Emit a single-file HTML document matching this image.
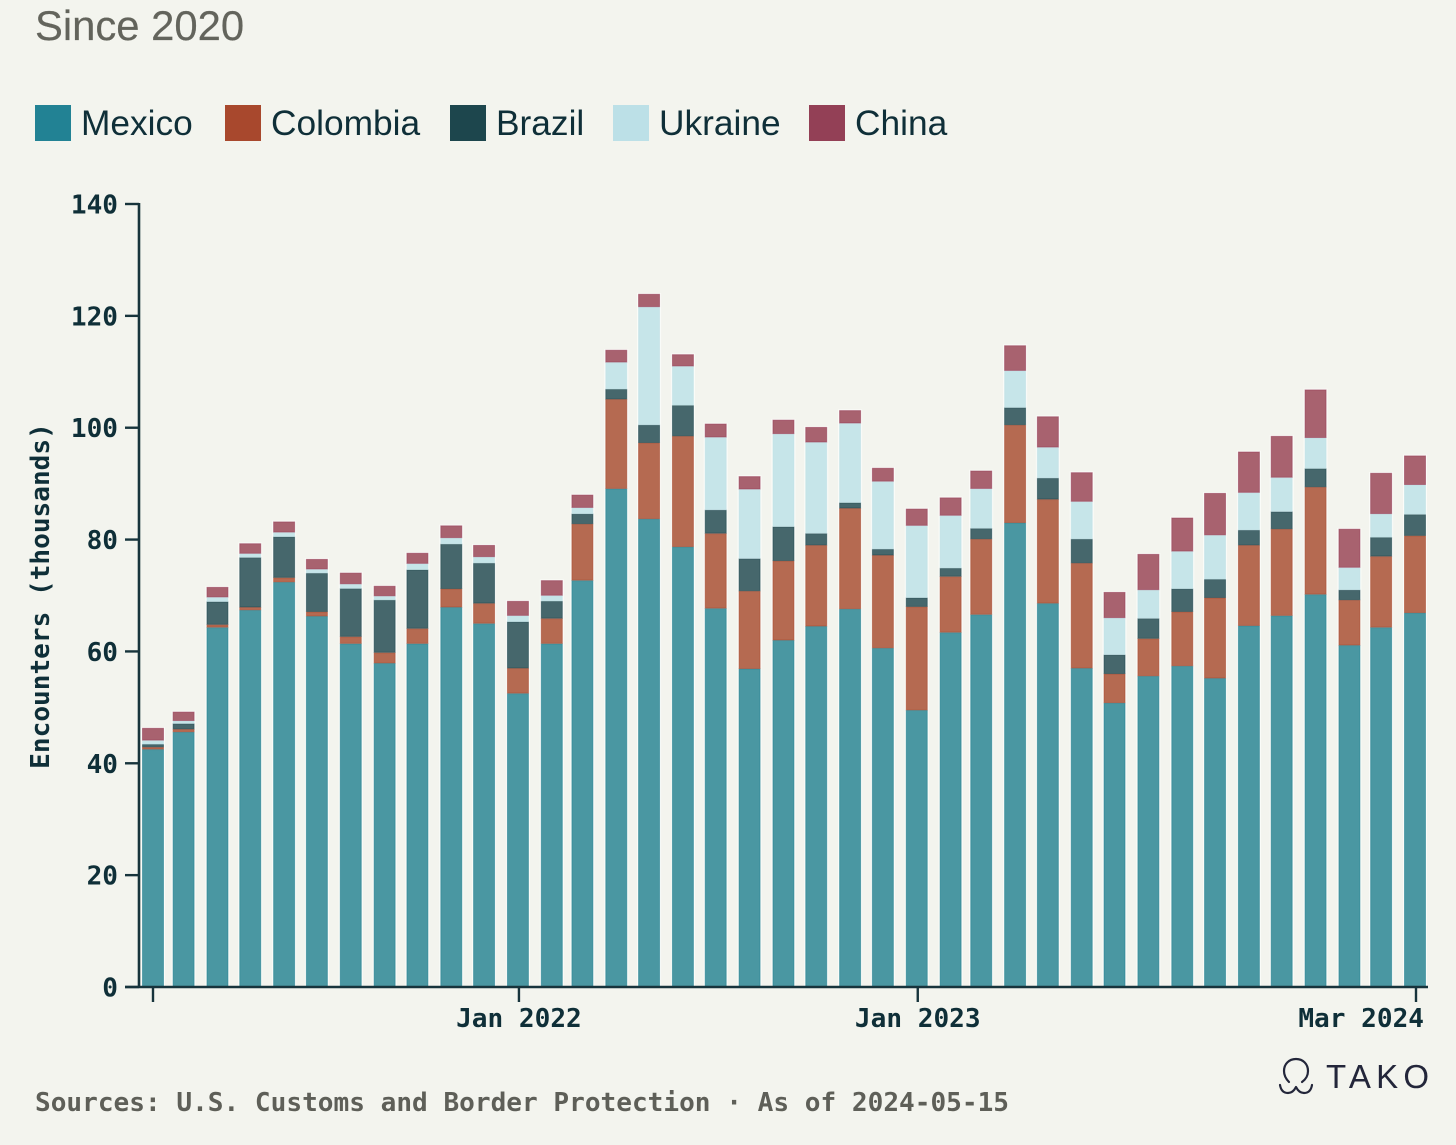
<!DOCTYPE html>
<html lang="en">
<head>
<meta charset="utf-8">
<title>Encounters by nationality since 2020</title>
<style>
  html, body { margin: 0; padding: 0; background: #f3f4ee; }
  body { width: 1456px; height: 1145px; overflow: hidden; }
  svg { display: block; }
  .sans { font-family: "Liberation Sans", sans-serif; }
  .mono { font-family: "DejaVu Sans Mono", "Liberation Mono", monospace; font-weight: 700; font-size: 26.1px; }
</style>
</head>
<body>
<svg id="chart" xmlns="http://www.w3.org/2000/svg" width="1456" height="1145" viewBox="0 0 1456 1145">
  <rect x="0" y="0" width="1456" height="1145" fill="#f3f4ee"/>
  <text class="sans" x="35" y="40" font-size="41.8" fill="#63645c" stroke="#63645c" stroke-width="0.2">Since 2020</text>

  <g id="legend"></g>
  <g id="bars"></g>
  <g id="axes"></g>

  <text class="mono" fill="#0f2f38" text-anchor="middle" transform="translate(49,596) rotate(-90)">Encounters (thousands)</text>
  <text class="mono" x="35" y="1111" fill="#5e5f58">Sources: U.S. Customs and Border Protection · As of 2024-05-15</text>

  <g>
    <path fill="none" stroke="#23263a" stroke-width="2.2" stroke-linecap="round" stroke-linejoin="round"
      d="M1289 1082 C1285 1078 1284 1074 1284 1071 C1284 1064 1289 1059 1296 1059 C1303 1059 1308 1064 1308 1071 C1308 1076 1306 1079 1302 1082 M1280 1085 C1281 1091 1284 1093 1288 1093 C1291 1093 1294 1091 1296 1087 C1298 1091 1301 1093 1304 1093 C1308 1093 1311 1091 1312 1085"/>
    <text class="sans" x="1326" y="1088" font-size="33" letter-spacing="5.2" fill="#23263a">TAKO</text>
  </g>
</svg>

<script>
const months = ["2021-02","2021-03","2021-04","2021-05","2021-06","2021-07","2021-08","2021-09","2021-10","2021-11","2021-12","2022-01","2022-02","2022-03","2022-04","2022-05","2022-06","2022-07","2022-08","2022-09","2022-10","2022-11","2022-12","2023-01","2023-02","2023-03","2023-04","2023-05","2023-06","2023-07","2023-08","2023-09","2023-10","2023-11","2023-12","2024-01","2024-02","2024-03","2024-04"];
const mexico = [42.5,45.6,64.3,67.4,72.4,66.3,61.4,57.9,61.4,67.9,65.0,52.5,61.4,72.7,89.1,83.7,78.7,67.7,56.9,62.0,64.5,67.6,60.6,49.5,63.4,66.6,83.0,68.6,57.0,50.8,55.6,57.4,55.2,64.6,66.4,70.2,61.1,64.3,66.9];
const colombia = [0.4,0.5,0.5,0.5,0.8,0.8,1.25,1.9,2.7,3.3,3.6,4.5,4.5,10.1,16.0,13.6,19.8,13.4,13.9,14.2,14.5,18.0,16.6,18.5,10.0,13.5,17.5,18.6,18.8,5.2,6.7,9.7,14.4,14.4,15.5,19.2,8.1,12.7,13.8];
const brazil = [0.5,1.0,4.1,8.9,7.3,6.9,8.6,9.4,10.5,8.0,7.2,8.3,3.1,1.8,1.8,3.2,5.5,4.2,5.8,6.1,2.1,1.0,1.1,1.6,1.5,1.9,3.1,3.8,4.3,3.4,3.6,4.1,3.3,2.7,3.1,3.3,1.8,3.4,3.8];
const ukraine = [0.7,0.5,0.8,0.7,0.8,0.7,0.8,0.7,1.1,1.1,1.1,1.1,1.0,1.1,4.8,21.1,7.0,13.0,12.4,16.6,16.3,14.2,12.1,12.9,9.4,7.1,6.6,5.5,6.7,6.6,5.1,6.7,7.9,6.7,6.1,5.5,4.0,4.2,5.3];
const china = [2.2,1.6,1.8,1.8,1.9,1.8,2.0,1.8,1.9,2.2,2.1,2.6,2.7,2.3,2.2,2.3,2.1,2.4,2.3,2.5,2.7,2.3,2.4,3.0,3.2,3.2,4.5,5.5,5.2,4.6,6.4,6.0,7.5,7.3,7.4,8.6,6.9,7.3,5.2];

const seriesNames = ["Mexico","Colombia","Brazil","Ukraine","China"];
const seriesValues = [mexico, colombia, brazil, ukraine, china];
const barFills = ["#4a97a2","#b56a51","#46676c","#c6e5e9","#a8626f"];
const barEdges = ["#1f8090","#a8472c","#1d464d","#bfe0e6","#963b55"];
const legendFills = ["#228294","#a8482d","#1d464d","#bce0e7","#934056"];

const yTicks = [0,20,40,60,80,100,120,140];
const xTickMonths = ["2021-02","2022-01","2023-01","2024-04"];
const xTickLabels = ["","Jan 2022","Jan 2023","Mar 2024"];

const SVG_NS = "http://www.w3.org/2000/svg";
const AXIS = "#17343c";
const INK = "#0f2f38";

function make(tag, attrs, parent) {
  const el = document.createElementNS(SVG_NS, tag);
  for (const k in attrs) el.setAttribute(k, attrs[k]);
  parent.appendChild(el);
  return el;
}
function monthDays(m) {
  const parts = m.split("-");
  return Date.UTC(+parts[0], +parts[1] - 1, 1) / 86400000;
}
const dayStart = monthDays(months[0]);
const dayEnd = monthDays(months[months.length - 1]);
function xScale(m) {
  return 153 + (monthDays(m) - dayStart) * (1415 - 153) / (dayEnd - dayStart);
}
function yScale(v) {
  return 987 - v * (987 - 204) / 140;
}

/* legend */
const legendGroup = document.getElementById("legend");
let legendX = [35, 225, 450, 613, 809];
seriesNames.forEach(function (name, i) {
  const key = name.toLowerCase();
  const swatch = make("rect", { x: legendX[i], y: 105, width: 36, height: 36, fill: legendFills[i] }, legendGroup);
  
  
  const label = make("text", { x: legendX[i] + 46, y: 135, "font-size": 35.3, fill: INK, class: "sans" }, legendGroup);
  label.textContent = name;
  
  
});

/* bars */
const barsGroup = document.getElementById("bars");
const BAR_W = 22;
months.forEach(function (m, i) {
  const cx = xScale(m);
  let total = 0;
  seriesValues.forEach(function (vals) { total += vals[i]; });
  const halo = make("rect", { x: cx - BAR_W / 2 - 1, y: yScale(total) - 1, width: BAR_W + 2, height: yScale(0) - yScale(total) + 1, fill: "#fbfcf9" }, barsGroup);
  
  
  let base = 0;
  seriesValues.forEach(function (vals, s) {
    const v = vals[i];
    const top = yScale(base + v);
    const bottom = yScale(base);
    const bar = make("rect", {
      x: cx - BAR_W / 2 + 0.5, y: top + 0.25, width: BAR_W - 1, height: Math.max(bottom - top - 0.5, 0.5),
      fill: barFills[s], stroke: barEdges[s], "stroke-width": 1, "stroke-opacity": 0.55
    }, barsGroup);
    
    
    base += v;
  });
});

/* axes */
const axesGroup = document.getElementById("axes");
const yLine = make("line", { x1: 139, x2: 139, y1: yScale(140) - 1, y2: yScale(0) + 1, stroke: AXIS, "stroke-width": 2.6 }, axesGroup);


const xLine = make("line", { x1: 125, x2: 1428, y1: yScale(0), y2: yScale(0), stroke: AXIS, "stroke-width": 2.6 }, axesGroup);



yTicks.forEach(function (t) {
  const y = yScale(t);
  const tick = make("line", { x1: 125, x2: 139, y1: y, y2: y, stroke: AXIS, "stroke-width": 2.4 }, axesGroup);
  
  
  const label = make("text", { x: 118, y: y + 9.5, "text-anchor": "end", fill: INK, class: "mono" }, axesGroup);
  label.textContent = String(t);
  
  
});

xTickMonths.forEach(function (m, i) {
  const isFirst = i === 0;
  const x = xScale(m) + (isFirst ? 0 : 1);
  const tick = make("line", { x1: x, x2: x, y1: yScale(0), y2: 1002, stroke: AXIS, "stroke-width": 2.4 }, axesGroup);
  
  
  if (xTickLabels[i]) {
    const isLast = i === xTickMonths.length - 1;
    const label = make("text", { x: isLast ? x + 8 : x, y: 1027, "text-anchor": isLast ? "end" : "middle", fill: INK, class: "mono" }, axesGroup);
    label.textContent = xTickLabels[i];
    
    
  }
});
</script>
</body>
</html>
